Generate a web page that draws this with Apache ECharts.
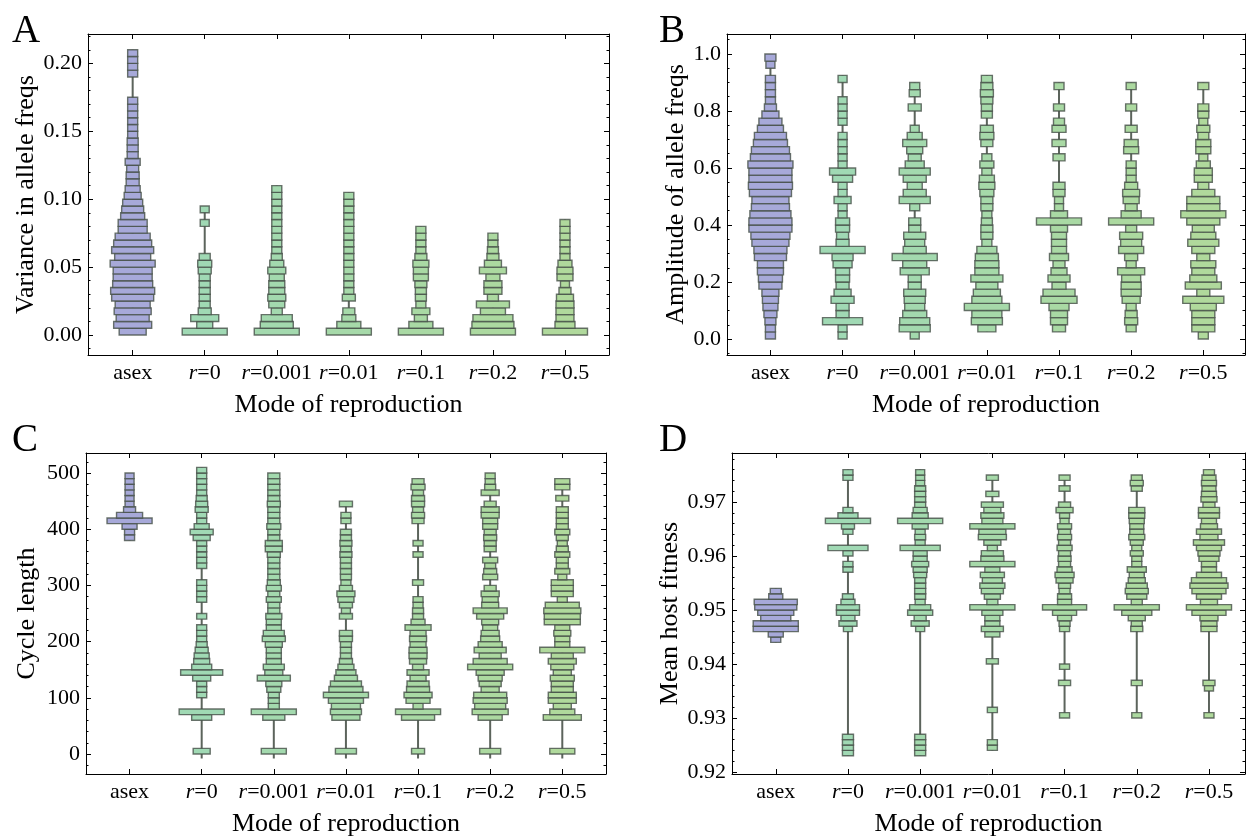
<!DOCTYPE html>
<html>
<head>
<meta charset="utf-8">
<script src="https://cdn.jsdelivr.net/npm/echarts@6/dist/echarts.min.js"></script>
<style>
html, body { margin: 0; padding: 0; background: #fff; }
#chart { width: 1246px; height: 838px; }
</style>
</head>
<body>
<div id="chart"></div>
<script>
// categories of the x axis
const categories = ['asex', 'r=0', 'r=0.001', 'r=0.01', 'r=0.1', 'r=0.2', 'r=0.5'];

// A: variance in allele freqs, bins of 0.005 from 0
const varBin = 0.005;
const varOrigin = 0;
const varFirst = [0, 0, 0, 0, 0, 0, 0];
const varTicks = [0, 0.05, 0.1, 0.15, 0.2];
const varFreq = [
  [27, 38, 33, 37, 35, 42, 44, 40, 39, 39, 45, 36, 42, 38, 35, 29, 29, 24, 22, 20, 17, 15, 13, 13, 12, 15, 11, 11, 11, 10, 10, 10, 10, 10, 10, 0, 0, 0, 10, 10, 10, 10],
  [45, 16, 28, 13, 11, 11, 11, 11, 11, 13, 14, 11, 0, 0, 0, 0, 9, 0, 9],
  [45, 33, 31, 11, 16, 18, 16, 16, 15, 18, 14, 11, 10, 10, 10, 10, 10, 10, 10, 10, 10, 10],
  [45, 24, 14, 12, 0, 13, 10, 10, 10, 10, 10, 10, 10, 10, 10, 10, 10, 10, 10, 10, 10],
  [45, 24, 13, 18, 10, 11, 11, 12, 15, 15, 16, 12, 10, 10, 10, 10],
  [45, 42, 40, 25, 33, 11, 18, 18, 14, 27, 17, 12, 11, 10, 10],
  [45, 20, 18, 18, 18, 17, 12, 9, 16, 16, 14, 10, 10, 10, 10, 10, 10]
];

// B: amplitude of allele freqs, bins of 0.025 from 0
const ampBin = 0.025;
const ampOrigin = 0;
const ampFirst = [0, 0, 0, 0, 0, 0, 0];
const ampTicks = [0, 0.2, 0.4, 0.6, 0.8, 1.0];
const ampFreq = [
  [10, 10, 11, 13, 15, 16, 17, 23, 24, 26, 26, 32, 33, 37, 39, 43, 43, 41, 38, 37, 42, 44, 43, 43, 45, 40, 38, 34, 32, 26, 23, 17, 12, 10, 10, 10, 10, 0, 9, 11],
  [9, 9, 40, 13, 13, 23, 17, 13, 14, 14, 19, 21, 45, 13, 12, 14, 14, 9, 9, 17, 9, 9, 20, 26, 9, 9, 9, 9, 9, 0, 9, 9, 9, 9, 0, 0, 9],
  [9, 31, 30, 24, 20, 21, 22, 13, 13, 29, 24, 45, 23, 20, 22, 12, 12, 0, 10, 31, 23, 15, 23, 31, 19, 13, 16, 24, 15, 9, 0, 0, 13, 0, 11, 10],
  [0, 18, 31, 30, 45, 30, 27, 22, 32, 24, 24, 23, 20, 10, 12, 12, 11, 10, 12, 12, 14, 16, 15, 10, 14, 10, 0, 12, 14, 13, 0, 11, 11, 12, 13, 12, 11],
  [0, 13, 17, 17, 20, 36, 32, 14, 22, 16, 12, 19, 15, 15, 15, 17, 45, 17, 9, 9, 12, 12, 0, 0, 0, 12, 0, 14, 0, 14, 11, 0, 11, 0, 0, 10],
  [0, 10, 13, 12, 10, 18, 20, 20, 19, 27, 10, 13, 25, 21, 23, 11, 45, 20, 12, 16, 17, 13, 10, 10, 10, 0, 15, 14, 0, 12, 0, 0, 11, 0, 0, 10],
  [10, 23, 23, 23, 26, 41, 13, 36, 27, 23, 25, 13, 23, 31, 25, 22, 33, 45, 33, 33, 23, 11, 18, 18, 14, 9, 15, 15, 11, 13, 9, 11, 11, 0, 0, 11]
];

// C: cycle length, bins of 10 from 0
const cycBin = 10;
const cycOrigin = 0;
const cycFirst = [38, 0, 0, 0, 0, 0, 0];
const cycLow = [null, -8, -8, -8, -8, -8, -8];
const cycTicks = [0, 100, 200, 300, 400, 500];
const cycFreq = [
  [10, 10, 15, 45, 26, 12, 9, 9, 9, 9, 9, 9],
  [17, 0, 0, 0, 0, 0, 20, 45, 0, 0, 10, 10, 10, 18, 42, 20, 16, 15, 13, 11, 10, 10, 10, 0, 10, 0, 0, 10, 10, 10, 10, 0, 0, 10, 10, 10, 10, 10, 17, 23, 15, 10, 10, 13, 12, 11, 10, 10, 10, 10, 10],
  [25, 0, 0, 0, 0, 0, 22, 45, 11, 11, 11, 14, 16, 33, 18, 21, 15, 15, 15, 17, 23, 21, 15, 15, 16, 12, 12, 15, 12, 15, 13, 12, 12, 12, 12, 13, 17, 17, 12, 12, 14, 12, 12, 12, 13, 12, 12, 12, 12, 12],
  [21, 0, 0, 0, 0, 0, 28, 31, 29, 35, 45, 34, 31, 23, 20, 16, 13, 11, 11, 11, 13, 13, 0, 0, 13, 9, 13, 16, 18, 13, 10, 11, 11, 11, 11, 12, 11, 12, 11, 11, 0, 10, 10, 0, 13],
  [13, 0, 0, 0, 0, 0, 33, 45, 10, 24, 28, 23, 22, 16, 22, 11, 17, 18, 18, 16, 17, 16, 26, 14, 11, 11, 10, 10, 0, 0, 11, 0, 0, 0, 0, 10, 0, 10, 0, 0, 0, 12, 13, 11, 13, 13, 11, 14, 12],
  [21, 0, 0, 0, 0, 0, 24, 36, 31, 34, 33, 18, 22, 24, 28, 45, 34, 22, 32, 24, 19, 18, 15, 17, 27, 34, 17, 16, 18, 12, 0, 15, 13, 11, 15, 0, 12, 12, 13, 12, 15, 15, 18, 18, 12, 0, 18, 11, 10, 10],
  [25, 0, 0, 0, 0, 0, 38, 25, 18, 28, 28, 22, 22, 24, 18, 23, 28, 22, 45, 15, 15, 17, 15, 36, 36, 37, 34, 10, 22, 22, 22, 9, 15, 12, 12, 15, 12, 10, 12, 15, 12, 12, 12, 12, 0, 13, 0, 15, 15]
];

// D: mean host fitness, bins of 0.001 from 0.92
const fitBin = 0.001;
const fitOrigin = 0.92;
const fitFirst = [24, 3, 3, 4, 10, 10, 10];
const fitTicks = [0.92, 0.93, 0.94, 0.95, 0.96, 0.97];
const fitFreq = [
  [10, 15, 45, 45, 30, 36, 42, 43, 14, 11],
  [11, 11, 11, 11, 0, 0, 0, 0, 0, 0, 0, 0, 0, 0, 0, 0, 0, 0, 0, 0, 0, 0, 0, 9, 18, 14, 23, 23, 14, 11, 0, 0, 0, 0, 10, 10, 0, 10, 40, 0, 0, 10, 13, 45, 20, 10, 0, 0, 0, 0, 0, 10, 10],
  [11, 11, 11, 11, 0, 0, 0, 0, 0, 0, 0, 0, 0, 0, 0, 0, 0, 0, 0, 0, 0, 0, 0, 9, 18, 12, 25, 21, 10, 11, 11, 11, 11, 13, 14, 17, 14, 14, 40, 10, 11, 10, 16, 45, 16, 14, 11, 11, 11, 11, 9, 9, 9],
  [10, 10, 0, 0, 0, 0, 0, 10, 0, 0, 0, 0, 0, 0, 0, 0, 12, 0, 0, 0, 0, 15, 22, 15, 15, 21, 45, 11, 16, 22, 25, 20, 24, 15, 45, 23, 22, 10, 17, 28, 27, 45, 21, 23, 17, 22, 0, 13, 0, 0, 12],
  [10, 0, 0, 0, 0, 0, 12, 0, 0, 10, 0, 0, 0, 0, 0, 0, 10, 11, 14, 24, 44, 14, 14, 11, 12, 17, 19, 15, 12, 13, 12, 15, 12, 14, 12, 14, 9, 10, 17, 12, 0, 0, 11, 0, 11],
  [10, 0, 0, 0, 0, 0, 11, 0, 0, 0, 0, 0, 0, 0, 0, 0, 12, 11, 17, 30, 45, 11, 20, 23, 21, 17, 15, 19, 10, 10, 13, 10, 13, 16, 14, 14, 15, 16, 16, 0, 0, 0, 11, 13, 11],
  [10, 0, 0, 0, 0, 9, 12, 0, 0, 0, 0, 0, 0, 0, 0, 0, 16, 16, 18, 34, 45, 17, 25, 34, 38, 35, 25, 15, 15, 20, 22, 25, 31, 18, 25, 17, 15, 21, 21, 12, 16, 15, 14, 15, 14, 11]
];

// one category slot holds this many frequency units across
const slotFreq = 72;

const serif = '"Liberation Serif", "Times New Roman", serif';
const fills = ['#a7a9d9', '#a0d9b4', '#a3d9ae', '#a6d9a9', '#a9d9a4', '#acd9a0', '#b0d99c'];

const panels = [
  { letter: 'A', lx: 12, ly: 12, grid: { left: 88, top: 34, width: 521, height: 321 },
    xMin: 0.380, xMax: 7.611, yMin: -0.0147, yMax: 0.2216, minorStep: 0.01, digits: 2,
    name: 'Variance in allele freqs', nameGap: 47,
    bin: varBin, origin: varOrigin, first: varFirst, freq: varFreq, ticks: varTicks },
  { letter: 'B', lx: 659, ly: 12, grid: { left: 727, top: 34, width: 518, height: 321 },
    xMin: 0.398, xMax: 7.578, yMin: -0.056, yMax: 1.070, minorStep: 0.05, digits: 1,
    name: 'Amplitude of allele freqs', nameGap: 36,
    bin: ampBin, origin: ampOrigin, first: ampFirst, freq: ampFreq, ticks: ampTicks },
  { letter: 'C', lx: 12, ly: 421, grid: { left: 86, top: 453, width: 520, height: 321 },
    xMin: 0.396, xMax: 7.606, yMin: -35.6, yMax: 535.6, minorStep: 20, digits: 0,
    name: 'Cycle length', nameGap: 46, low: cycLow,
    bin: cycBin, origin: cycOrigin, first: cycFirst, freq: cycFreq, ticks: cycTicks },
  { letter: 'D', lx: 659, ly: 421, grid: { left: 732, top: 453, width: 513, height: 321 },
    xMin: 0.394, xMax: 7.499, yMin: 0.91963, yMax: 0.97907, minorStep: 0.002, digits: 2,
    name: 'Mean host fitness', nameGap: 45,
    bin: fitBin, origin: fitOrigin, first: fitFirst, freq: fitFreq, ticks: fitTicks }
];

function catLabel (v) {
  const c = categories[Math.round(v) - 1]
  if (!c) return ''
  return c.charAt(0) === 'r' ? '{i|r}{n|' + c.slice(1) + '}' : '{n|' + c + '}'
}

function renderBox (params, api) {
  const x = api.value(0)
  const hw = api.value(3) / slotFreq / 2
  const a = api.coord([x - hw, api.value(2)])
  const b = api.coord([x + hw, api.value(1)])
  return {
    type: 'rect',
    shape: { x: a[0], y: a[1], width: b[0] - a[0], height: b[1] - a[1] },
    style: { fill: api.visual('color'), stroke: 'rgba(70,80,72,0.8)', lineWidth: 1.4 }
  }
}

function renderWhisker (params, api) {
  const a = api.coord([api.value(0), api.value(2)])
  const b = api.coord([api.value(0), api.value(1)])
  return {
    type: 'line',
    shape: { x1: a[0], y1: a[1], x2: b[0], y2: b[1] },
    style: { stroke: '#5c645c', lineWidth: 2 }
  }
}

const grids = []
const xAxes = []
const yAxes = []
const series = []
const graphics = []
const catTicks = categories.map((c, j) => j + 1)
const frameLine = { show: true, onZero: false, lineStyle: { color: '#000', width: 1 } }
const noLine = { show: false, onZero: false }
const tickStyle = { color: '#000', width: 1 }
const labelFont = { fontFamily: serif, fontSize: 22, color: '#000' }

panels.forEach((p, i) => {
  grids.push(p.grid)

  const minor = []
  for (let v = Math.ceil(p.yMin / p.minorStep) * p.minorStep; v <= p.yMax + 1e-9; v += p.minorStep) {
    minor.push(+v.toFixed(6))
  }

  xAxes.push({
    gridIndex: i, type: 'value', min: p.xMin, max: p.xMax, position: 'bottom',
    axisLine: frameLine, splitLine: { show: false },
    axisTick: { inside: true, length: 5, customValues: catTicks, lineStyle: tickStyle },
    axisLabel: Object.assign({ customValues: catTicks, formatter: catLabel, margin: 7,
      rich: { i: Object.assign({ fontStyle: 'italic' }, labelFont), n: labelFont } }, labelFont),
    name: 'Mode of reproduction', nameLocation: 'middle', nameGap: 37,
    nameTextStyle: { fontFamily: serif, fontSize: 26, color: '#000' }
  })
  xAxes.push({
    gridIndex: i, type: 'value', min: p.xMin, max: p.xMax, position: 'top',
    axisLine: frameLine, splitLine: { show: false }, axisLabel: { show: false },
    axisTick: { inside: true, length: 5, customValues: catTicks, lineStyle: tickStyle }
  })

  const yBase = { gridIndex: i, type: 'value', min: p.yMin, max: p.yMax, splitLine: { show: false } }
  yAxes.push(Object.assign({}, yBase, {
    position: 'left', axisLine: frameLine,
    axisTick: { inside: true, length: 5, customValues: p.ticks, lineStyle: tickStyle },
    axisLabel: Object.assign({ customValues: p.ticks, margin: 6, formatter: v => v.toFixed(p.digits) }, labelFont),
    name: p.name, nameLocation: 'middle', nameGap: p.nameGap,
    nameTextStyle: { fontFamily: serif, fontSize: 26, color: '#000' }
  }))
  yAxes.push(Object.assign({}, yBase, {
    position: 'left', axisLine: noLine, axisLabel: { show: false },
    axisTick: { inside: true, length: 2.5, customValues: minor, lineStyle: tickStyle }
  }))
  yAxes.push(Object.assign({}, yBase, {
    position: 'right', axisLine: frameLine, axisLabel: { show: false },
    axisTick: { inside: true, length: 5, customValues: p.ticks, lineStyle: tickStyle }
  }))
  yAxes.push(Object.assign({}, yBase, {
    position: 'right', axisLine: noLine, axisLabel: { show: false },
    axisTick: { inside: true, length: 2.5, customValues: minor, lineStyle: tickStyle }
  }))

  const whiskers = []
  categories.forEach((c, j) => {
    const boxes = []
    p.freq[j].forEach((f, k) => {
      if (!f) return
      const lo = p.origin + (p.first[j] + k) * p.bin
      boxes.push([j + 1, lo, lo + p.bin, f])
    })
    let low = boxes[0][1]
    if (p.low && p.low[j] != null) low = Math.min(low, p.low[j])
    whiskers.push([j + 1, low, boxes[boxes.length - 1][2]])
    series.push({
      type: 'custom', name: p.letter + ' ' + c, xAxisIndex: 2 * i, yAxisIndex: 4 * i,
      renderItem: renderBox, itemStyle: { color: fills[j] }, encode: { x: 0, y: [1, 2] },
      data: boxes, z: 3, silent: true, clip: false
    })
  })
  series.push({
    type: 'custom', name: p.letter + ' range', xAxisIndex: 2 * i, yAxisIndex: 4 * i,
    renderItem: renderWhisker, encode: { x: 0, y: [1, 2] }, data: whiskers, z: 2, silent: true
  })

  graphics.push({
    type: 'text', left: p.lx, top: p.ly,
    style: { text: p.letter, font: '39px ' + serif, fill: '#000' }
  })
})

const chart = echarts.init(document.getElementById('chart'))
chart.setOption({
  backgroundColor: '#fff',
  animation: false,
  grid: grids,
  xAxis: xAxes,
  yAxis: yAxes,
  series: series,
  graphic: graphics
})
</script>
</body>
</html>
